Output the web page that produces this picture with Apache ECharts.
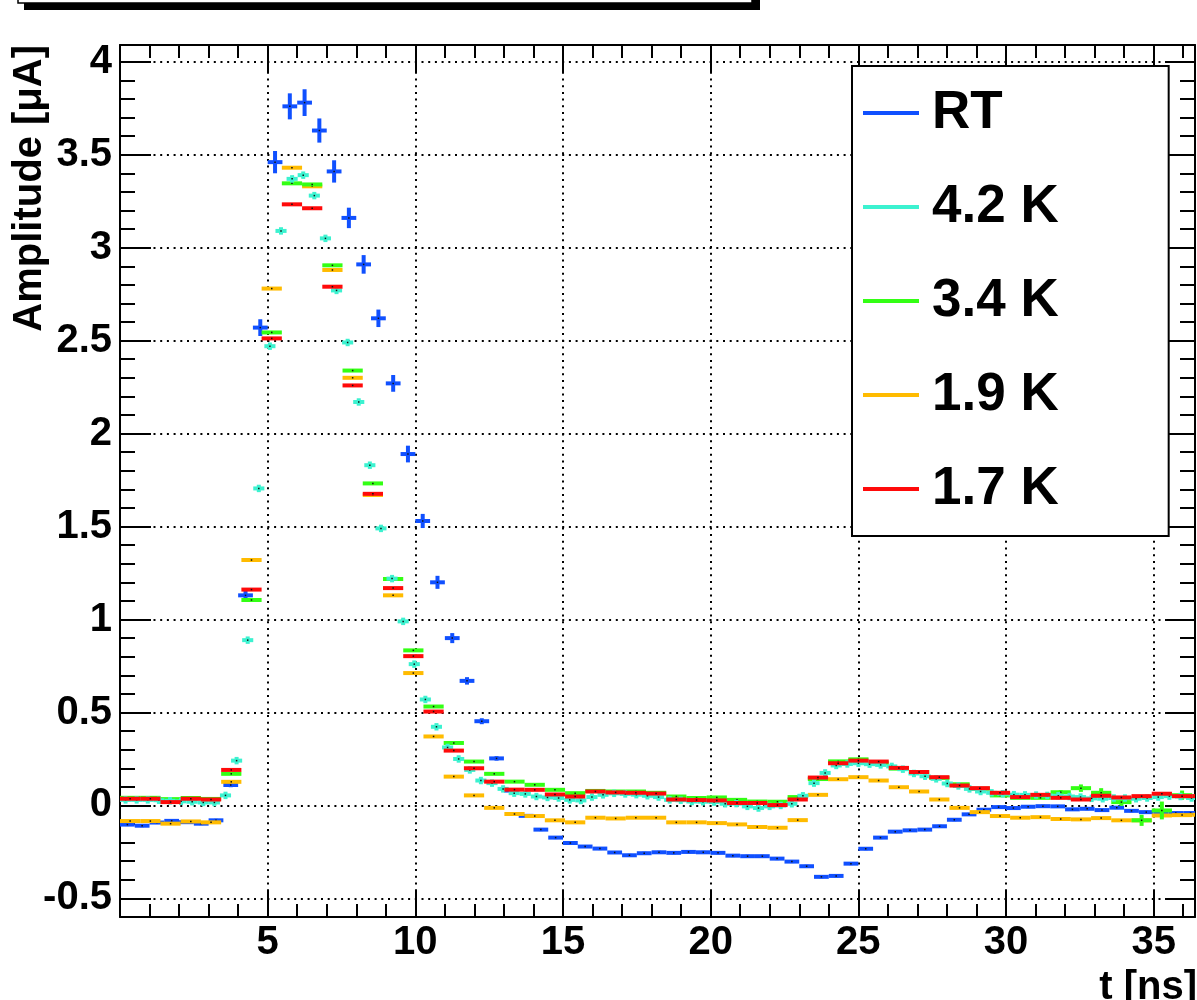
<!DOCTYPE html>
<html>
<head>
<meta charset="utf-8">
<script src="https://cdn.jsdelivr.net/npm/echarts@6/dist/echarts.min.js"></script>
<style>
  html, body { margin: 0; padding: 0; background: #fff; }
  #chart { width: 1197px; height: 1000px; }
</style>
</head>
<body>
<div id="chart"></div>
<script>
// histogram bin widths [ns]; bins start at t = 0
const binRT = 0.5;
const binCyan = 0.376;
const binWide = 0.685;

const seriesNames = ['RT', '4.2 K', '3.4 K', '1.9 K', '1.7 K'];
const seriesColors = ['#1050ff', '#3cf2d0', '#33ff14', '#ffbb00', '#ff0a0a'];

// RT, 0.5 ns bins
const ampRT = [
  -0.103, -0.109, -0.092, -0.083, -0.090, -0.098, -0.080, 0.110, 1.130, 2.570,
  3.460, 3.760, 3.780, 3.630, 3.410, 3.160, 2.910, 2.620, 2.270, 1.890,
  1.530, 1.200, 0.900, 0.670, 0.453, 0.253, 0.080, -0.056, -0.130, -0.173,
  -0.202, -0.221, -0.232, -0.253, -0.268, -0.257, -0.252, -0.255, -0.250, -0.252,
  -0.255, -0.270, -0.273, -0.273, -0.286, -0.302, -0.327, -0.384, -0.379, -0.313,
  -0.233, -0.173, -0.141, -0.134, -0.130, -0.112, -0.077, -0.048, -0.023, -0.009,
  -0.014, -0.007, -0.004, -0.005, -0.021, -0.018, -0.025, -0.012, -0.029, -0.036,
  -0.035, -0.041, -0.041
];
const errRT = [
  0.008, 0.008, 0.008, 0.008, 0.008, 0.008, 0.008, 0.012, 0.025, 0.045,
  0.060, 0.070, 0.072, 0.065, 0.060, 0.055, 0.050, 0.047, 0.045, 0.045,
  0.038, 0.035, 0.027, 0.020, 0.016, 0.012, 0.008, 0.008, 0.008, 0.008,
  0.008, 0.008, 0.008, 0.008, 0.008, 0.008, 0.008, 0.008, 0.008, 0.008,
  0.008, 0.008, 0.008, 0.008, 0.008, 0.008, 0.008, 0.008, 0.008, 0.008,
  0.008, 0.008, 0.008, 0.008, 0.008, 0.008, 0.008, 0.008, 0.008, 0.008,
  0.008, 0.008, 0.008, 0.008, 0.008, 0.008, 0.008, 0.008, 0.008, 0.008,
  0.008, 0.008, 0.008
];

// 4.2 K, narrow bins
const amp42 = [
  0.030, 0.030, 0.030, 0.028, 0.025, 0.022, 0.020, 0.016, 0.016, 0.054,
  0.241, 0.889, 1.705, 2.470, 3.090, 3.370, 3.390, 3.280, 3.050, 2.770,
  2.490, 2.170, 1.830, 1.490, 1.220, 0.990, 0.760, 0.570, 0.423, 0.312,
  0.250, 0.191, 0.134, 0.120, 0.089, 0.066, 0.062, 0.048, 0.043, 0.040,
  0.030, 0.027, 0.045, 0.057, 0.065, 0.062, 0.058, 0.052, 0.045, 0.030,
  0.028, 0.021, 0.020, 0.018, 0.009, 0.010, -0.005, -0.014, -0.005, 0.000,
  0.009, 0.052, 0.120, 0.175, 0.215, 0.223, 0.227, 0.222, 0.218, 0.210,
  0.195, 0.172, 0.157, 0.143, 0.118, 0.105, 0.089, 0.075, 0.068, 0.063,
  0.058, 0.057, 0.056, 0.054, 0.052, 0.048, 0.045, 0.038, 0.036, 0.040,
  0.040, 0.036, 0.040, 0.045, 0.050, 0.048, 0.040
];
const err42 = 0.02;

// 3.4 K
const amp34 = [
  0.041, 0.041, 0.034, 0.040, 0.035, 0.170, 1.105, 2.544, 3.346, 3.340,
  2.905, 2.339, 1.732, 1.218, 0.834, 0.532, 0.336, 0.236, 0.170, 0.128,
  0.111, 0.084, 0.066, 0.078, 0.075, 0.075, 0.068, 0.048, 0.040, 0.043,
  0.030, 0.021, 0.020, 0.045, 0.142, 0.237, 0.248, 0.229, 0.198, 0.180,
  0.148, 0.114, 0.090, 0.054, 0.041, 0.041, 0.071, 0.093, 0.068, 0.018,
  -0.080, -0.027, 0.055, 0.050
];
const err34 = [
  0.006, 0.006, 0.006, 0.006, 0.006, 0.006, 0.006, 0.006, 0.006, 0.006,
  0.006, 0.006, 0.006, 0.006, 0.006, 0.006, 0.006, 0.006, 0.006, 0.006,
  0.006, 0.006, 0.006, 0.006, 0.006, 0.006, 0.006, 0.006, 0.006, 0.006,
  0.006, 0.006, 0.006, 0.006, 0.006, 0.006, 0.006, 0.006, 0.006, 0.006,
  0.006, 0.006, 0.006, 0.006, 0.006, 0.006, 0.012, 0.020, 0.025, 0.020,
  0.030, 0.048, 0.025, 0.010
];

// 1.9 K
const amp19 = [
  -0.084, -0.084, -0.098, -0.086, -0.091, 0.127, 1.320, 2.780, 3.430, 3.330,
  2.880, 2.300, 1.670, 1.130, 0.712, 0.371, 0.155, 0.054, -0.013, -0.046,
  -0.057, -0.080, -0.091, -0.066, -0.070, -0.066, -0.066, -0.091, -0.091, -0.095,
  -0.102, -0.116, -0.120, -0.079, 0.057, 0.141, 0.152, 0.134, 0.098, 0.075,
  0.032, -0.013, -0.036, -0.057, -0.066, -0.063, -0.073, -0.075, -0.068, -0.080,
  -0.080, -0.054, -0.052, -0.050
];
const err19 = 0.006;

// 1.7 K
const amp17 = [
  0.036, 0.036, 0.018, 0.036, 0.032, 0.191, 1.161, 2.512, 3.233, 3.212,
  2.790, 2.259, 1.676, 1.169, 0.803, 0.505, 0.295, 0.200, 0.128, 0.085,
  0.084, 0.059, 0.048, 0.075, 0.070, 0.068, 0.064, 0.032, 0.029, 0.027,
  0.013, 0.013, 0.002, 0.032, 0.150, 0.227, 0.241, 0.236, 0.202, 0.180,
  0.152, 0.107, 0.093, 0.068, 0.045, 0.057, 0.041, 0.032, 0.052, 0.043,
  0.050, 0.063, 0.050, 0.050
];
const err17 = 0.006;

const tMax = 36.4;
const FONT = 'Liberation Sans';

// [bin centre, value, half width, error]
function hist(values, width, err) {
  return values.map(function (v, i) {
    return [(i + 0.5) * width, v, width / 2, Array.isArray(err) ? err[i] : err];
  });
}

// ROOT style "E" drawing: horizontal bin bar + vertical error bar + tiny marker
function renderHist(params, api) {
  const x = api.value(0), y = api.value(1), hw = api.value(2), e = api.value(3);
  const pl = api.coord([x - hw, y]);
  const pr = api.coord([x + hw, y]);
  const pt = api.coord([x, y + e]);
  const pb = api.coord([x, y - e]);
  const c = api.coord([x, y]);
  const st = { stroke: api.visual('color'), lineWidth: 4 };
  return {
    type: 'group',
    children: [
      { type: 'line', shape: { x1: pl[0], y1: pl[1], x2: pr[0], y2: pr[1] }, style: st },
      { type: 'line', shape: { x1: pt[0], y1: pt[1], x2: pb[0], y2: pb[1] }, style: st },
      { type: 'rect', shape: { x: c[0] - 0.75, y: c[1] - 0.75, width: 1.5, height: 1.5 }, style: { fill: '#111' } }
    ]
  };
}

function histSeries(idx, data) {
  return {
    name: seriesNames[idx],
    type: 'custom',
    renderItem: renderHist,
    clip: true,
    itemStyle: { color: seriesColors[idx] },
    encode: { x: 0, y: 1 },
    data: data
  };
}

const frameLine = { show: true, onZero: false, lineStyle: { color: '#000', width: 2 } };
const noLine = { show: false, onZero: false };
const dotted = { color: '#000', width: 2, type: [2, 4.7] };
const tickStyle = { color: '#000', width: 2 };
const labelStyle = { fontSize: 40, fontWeight: 'bold', fontFamily: FONT, color: '#000' };

function xAxisDef(pos, interval, len, main) {
  return {
    type: 'value', position: pos, min: 0, max: tMax, interval: interval,
    axisLine: main ? frameLine : noLine,
    axisTick: { inside: true, length: len, lineStyle: tickStyle },
    axisLabel: main && pos === 'bottom'
      ? Object.assign({ margin: 6, showMinLabel: false, showMaxLabel: false }, labelStyle)
      : { show: false },
    splitLine: main && pos === 'bottom' ? { show: true, lineStyle: dotted } : { show: false }
  };
}

function yAxisDef(pos, len, main) {
  const ax = {
    type: 'value', position: pos, min: -0.6, max: 4.09,
    axisLine: main ? frameLine : noLine,
    axisTick: { inside: true, length: len, lineStyle: tickStyle },
    axisLabel: main && pos === 'left'
      ? Object.assign({ margin: 8, showMinLabel: false, showMaxLabel: false }, labelStyle)
      : { show: false },
    splitLine: main && pos === 'left' ? { show: true, lineStyle: dotted } : { show: false }
  };
  if (main) ax.splitNumber = 9;   // gives 0.5 steps
  else ax.interval = 0.1;
  return ax;
}

const chart = echarts.init(document.getElementById('chart'));
chart.setOption({
  animation: false,
  backgroundColor: '#fff',
  grid: { left: 120, right: 2, top: 45, bottom: 83, containLabel: false, outerBoundsMode: 'none' },
  xAxis: [
    xAxisDef('bottom', 5, 26, true),
    xAxisDef('top', 5, 27, true),
    xAxisDef('bottom', 1, 13, false),
    xAxisDef('top', 1, 13, false)
  ],
  yAxis: [
    yAxisDef('left', 31, true),
    yAxisDef('right', 30, true),
    yAxisDef('left', 15, false),
    yAxisDef('right', 15, false)
  ],
  legend: {
    orient: 'vertical', left: 852, top: 66,
    data: seriesNames.map(function (n) { return { name: n, icon: 'rect' }; }),
    itemWidth: 56, itemHeight: 4, itemGap: 34,
    padding: [17, 110, 17, 11],
    borderColor: '#000', borderWidth: 2, borderRadius: 0,
    backgroundColor: '#fff',
    selectedMode: false,
    textStyle: { fontSize: 53, fontWeight: 'bold', fontFamily: FONT, color: '#000', lineHeight: 60, padding: [0, 0, 0, 8] }
  },
  graphic: [
    // title box cut at the top edge, with its shadow
    { type: 'rect', shape: { x: 24, y: -30, width: 736, height: 40 }, style: { fill: '#000' } },
    { type: 'rect', shape: { x: 18, y: -30, width: 734, height: 33 }, style: { fill: '#fff', stroke: '#000', lineWidth: 1.5 } },
    {
      type: 'text', x: 50, y: 45, rotation: Math.PI / 2,
      style: {
        text: 'Amplitude [\u03bcA]', font: 'bold 40px "Liberation Sans"', fill: '#000',
        align: 'right', verticalAlign: 'bottom', textAlign: 'right', textVerticalAlign: 'bottom'
      }
    },
    {
      type: 'text', x: 1197, y: 1008,
      style: {
        text: 't [ns]', font: 'bold 40px "Liberation Sans"', fill: '#000',
        align: 'right', verticalAlign: 'bottom', textAlign: 'right', textVerticalAlign: 'bottom'
      }
    }
  ],
  // drawing order: later ones on top
  series: [
    histSeries(0, hist(ampRT, binRT, errRT)),
    histSeries(3, hist(amp19, binWide, err19)),
    histSeries(2, hist(amp34, binWide, err34)),
    histSeries(1, hist(amp42, binCyan, err42)),
    histSeries(4, hist(amp17, binWide, err17))
  ]
});
</script>
</body>
</html>
